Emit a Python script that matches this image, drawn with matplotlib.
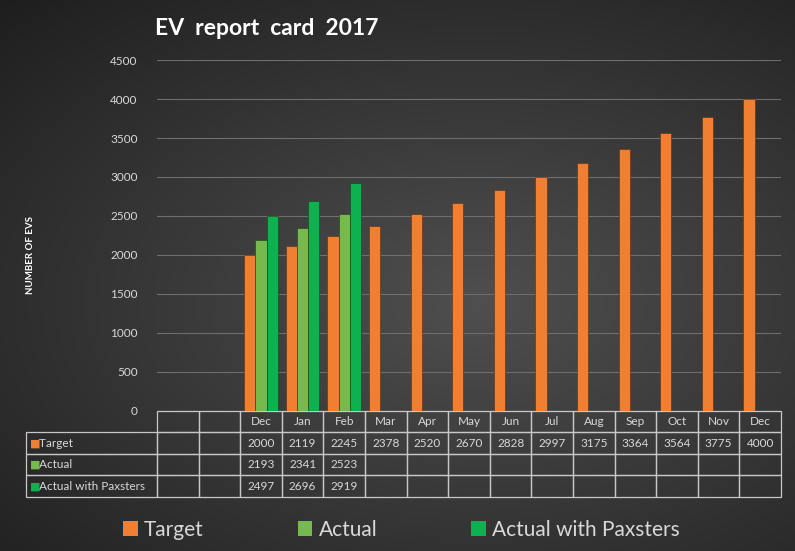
import numpy as np
import matplotlib.pyplot as plt
from matplotlib.patches import Patch

plt.rcParams['font.family'] = ['Lato', 'DejaVu Sans']

months = ['', '', 'Dec', 'Jan', 'Feb', 'Mar', 'Apr', 'May', 'Jun', 'Jul',
          'Aug', 'Sep', 'Oct', 'Nov', 'Dec']
target = [np.nan, np.nan, 2000, 2119, 2245, 2378, 2520, 2670, 2828, 2997,
          3175, 3364, 3564, 3775, 4000]
actual = [np.nan, np.nan, 2193, 2341, 2523] + [np.nan] * 10
paxsters = [np.nan, np.nan, 2497, 2696, 2919] + [np.nan] * 10
series_names = ['Target', 'Actual', 'Actual with Paxsters']
colors = ['#F07F32', '#76B94C', '#0DB14F']

fig = plt.figure(figsize=(7.95, 5.51), dpi=100)

# dark radial background
bg = fig.add_axes([0, 0, 1, 1], zorder=-10)
yy, xx = np.mgrid[0:1:300j, 0:1:400j]
r = np.sqrt(((xx - 0.6) / 0.9) ** 2 + ((yy - 0.55) / 0.8) ** 2)
shade = np.clip(0.31 - 0.2 * r, 0.11, 0.31)
bg.imshow(np.dstack([shade] * 3), aspect='auto', extent=[0, 1, 0, 1])
bg.axis('off')

ax = fig.add_axes([0.1975, 0.2541, 0.785, 0.637])
ax.patch.set_alpha(0)

x = np.arange(len(months))
w = 0.27
for i, (vals, c) in enumerate(zip([target, actual, paxsters], colors)):
    ax.bar(x + (i - 1) * w, vals, width=w, color=c,
           edgecolor='#5a2d10' if i == 0 else '#1d3d1d', linewidth=0.4, zorder=3)

ax.set_xlim(-0.5, len(months) - 0.5)
ax.set_ylim(0, 4500)
ax.set_yticks(np.arange(0, 4501, 500))
ax.tick_params(axis='y', length=0, pad=14, labelsize=8.5, labelcolor='#d9d9d9')
ax.set_xticks([])
ax.grid(axis='y', color='#6e6e6e', linewidth=0.8, zorder=0)
for s in ax.spines.values():
    s.set_visible(False)

fig.text(0.038, 0.537, 'NUMBER OF EVS', rotation=90, color='white',
         fontsize=7, fontweight='bold', ha='center', va='center')

fig.text(0.336, 0.949, 'EV  report  card  2017', color='white',
         fontsize=16.5, fontweight='bold', ha='center', va='center')

# data table, first column holds the series names
def cell(v):
    return '' if np.isnan(v) else '%d' % v

rl_w = 0.21
cell_text = [['    ' + n] + [cell(v) for v in s]
             for n, s in zip(series_names, [target, actual, paxsters])]
tab = ax.table(cellText=cell_text, colLabels=[''] + months,
               colWidths=[rl_w] + [1.0 / len(months)] * len(months),
               cellLoc='center', bbox=[-rl_w, -0.245, 1 + rl_w, 0.245])
tab.auto_set_font_size(False)
tab.set_fontsize(8.5)
for (r_, c_), cl in tab.get_celld().items():
    cl.set_facecolor('none')
    cl.set_edgecolor('#c8c8c8')
    cl.set_linewidth(0.9)
    cl.get_text().set_color('#d9d9d9')
    if c_ == 0:
        cl.get_text().set_horizontalalignment('left')
        cl.PAD = 0.01
        if r_ == 0:
            cl.visible_edges = ''

# colored squares next to the row labels
for i, c in enumerate(colors):
    yc = -0.245 + (2.5 - i) * 0.245 / 4
    ax.text(-rl_w + 0.007, yc, '\u25A0', color=c, fontsize=8,
            transform=ax.transAxes, ha='left', va='center',
            family=['DejaVu Sans'])

handles = [Patch(facecolor=c, edgecolor='none') for c in colors]
leg = fig.legend(handles, series_names, loc='center', ncol=3,
                 bbox_to_anchor=(0.505, 0.038), frameon=False, fontsize=15,
                 handlelength=0.7, handleheight=0.7, handletextpad=0.3,
                 columnspacing=4.5)
for t in leg.get_texts():
    t.set_color('#d9d9d9')

fig.savefig('out.png', dpi=100)
